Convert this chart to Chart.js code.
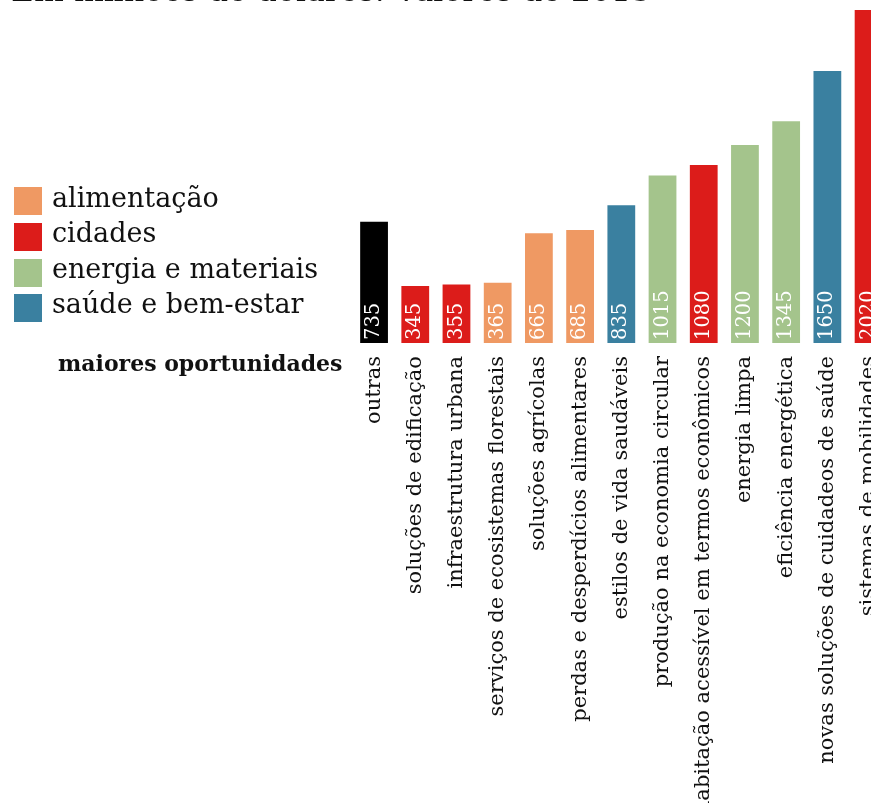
<!DOCTYPE html>
<html>
<head>
<meta charset="utf-8">
<script src="https://cdn.jsdelivr.net/npm/chart.js@4/dist/chart.umd.min.js"></script>
<style>
  html, body { margin: 0; padding: 0; background: #fff; width: 871px; height: 803px; overflow: hidden; position: relative; }
  #wrap { position: absolute; left: 0; top: 0; width: 907px; height: 803px; }
  .t { position: absolute; font-family: "DejaVu Serif", serif; color: #111; white-space: nowrap; }
  #title { left: 11px; top: -27px; font-size: 31.5px; line-height: 34px; }
  .sw { position: absolute; left: 14px; width: 28px; height: 28px; }
  .lg { left: 52px; font-size: 27px; line-height: 28px; }
  #sub { left: 58px; top: 351px; font-size: 22px; line-height: 24px; font-weight: bold; }
</style>
</head>
<body>
<div id="wrap"><canvas id="c" width="907" height="803"></canvas></div>
<div id="title" class="t">Em milhões de dólares. Valores de 2015</div>
<div id="legend"></div>
<div id="sub" class="t">maiores oportunidades</div>
<script>
const categories = [
  "outras",
  "soluções de edificação",
  "infraestrutura urbana",
  "serviços de ecosistemas florestais",
  "soluções agrícolas",
  "perdas e desperdícios alimentares",
  "estilos de vida saudáveis",
  "produção na economia circular",
  "habitação acessível em termos econômicos",
  "energia limpa",
  "eficiência energética",
  "novas soluções de cuidadeos de saúde",
  "sistemas de mobilidades"
];
const values = [735, 345, 355, 365, 665, 685, 835, 1015, 1080, 1200, 1345, 1650, 2020];
const groups = ["outras", "cidades", "cidades", "alimentação", "alimentação", "alimentação", "saúde e bem-estar", "energia e materiais", "cidades", "energia e materiais", "energia e materiais", "saúde e bem-estar", "cidades"];
const legendLabels = ["alimentação", "cidades", "energia e materiais", "saúde e bem-estar"];
const groupColors = {
  "outras": "#000000",
  "alimentação": "#EF9963",
  "cidades": "#DC1C1A",
  "energia e materiais": "#A4C48C",
  "saúde e bem-estar": "#3A80A0"
};

// HTML legend
const lg = document.getElementById('legend');
legendLabels.forEach((name, i) => {
  const top = 187.3 + i * 35.6;
  const sw = document.createElement('div');
  sw.className = 'sw';
  sw.style.top = top + 'px';
  sw.style.background = groupColors[name];
  lg.appendChild(sw);
  const tx = document.createElement('div');
  tx.className = 't lg';
  tx.style.top = (top - 3.8) + 'px';
  tx.textContent = name;
  lg.appendChild(tx);
});

const valueLabels = {
  id: 'valueLabels',
  afterDatasetsDraw(chart) {
    const ctx = chart.ctx;
    const meta = chart.getDatasetMeta(0);
    ctx.save();
    ctx.fillStyle = '#ffffff';
    ctx.font = '19.5px "DejaVu Serif", serif';
    ctx.textAlign = 'left';
    ctx.textBaseline = 'middle';
    meta.data.forEach((bar, i) => {
      ctx.save();
      ctx.translate(bar.x, bar.base - 3);
      ctx.rotate(-Math.PI / 2);
      ctx.fillText(String(values[i]), 0, 0);
      ctx.restore();
    });
    ctx.restore();
  }
};

new Chart(document.getElementById('c'), {
  type: 'bar',
  data: {
    labels: categories,
    datasets: [{
      data: values,
      backgroundColor: groups.map(g => groupColors[g]),
      borderWidth: 0,
      categoryPercentage: 1.0,
      barPercentage: 0.674
    }]
  },
  options: {
    responsive: false,
    animation: false,
    devicePixelRatio: 1,
    layout: { padding: { left: 353.45, right: 5.75, top: 0, bottom: 0 } },
    plugins: { legend: { display: false }, tooltip: { enabled: false }, title: { display: false } },
    scales: {
      x: {
        grid: { display: false, drawTicks: false },
        border: { display: false },
        ticks: {
          autoSkip: false,
          minRotation: 90,
          maxRotation: 90,
          padding: 13,
          color: '#111',
          font: { family: '"DejaVu Serif", serif', size: 21 }
        },
        afterFit(scale) { scale.height = 460; }
      },
      y: {
        display: false,
        min: 0,
        max: 2080
      }
    }
  },
  plugins: [valueLabels]
});
</script>
</body>
</html>
